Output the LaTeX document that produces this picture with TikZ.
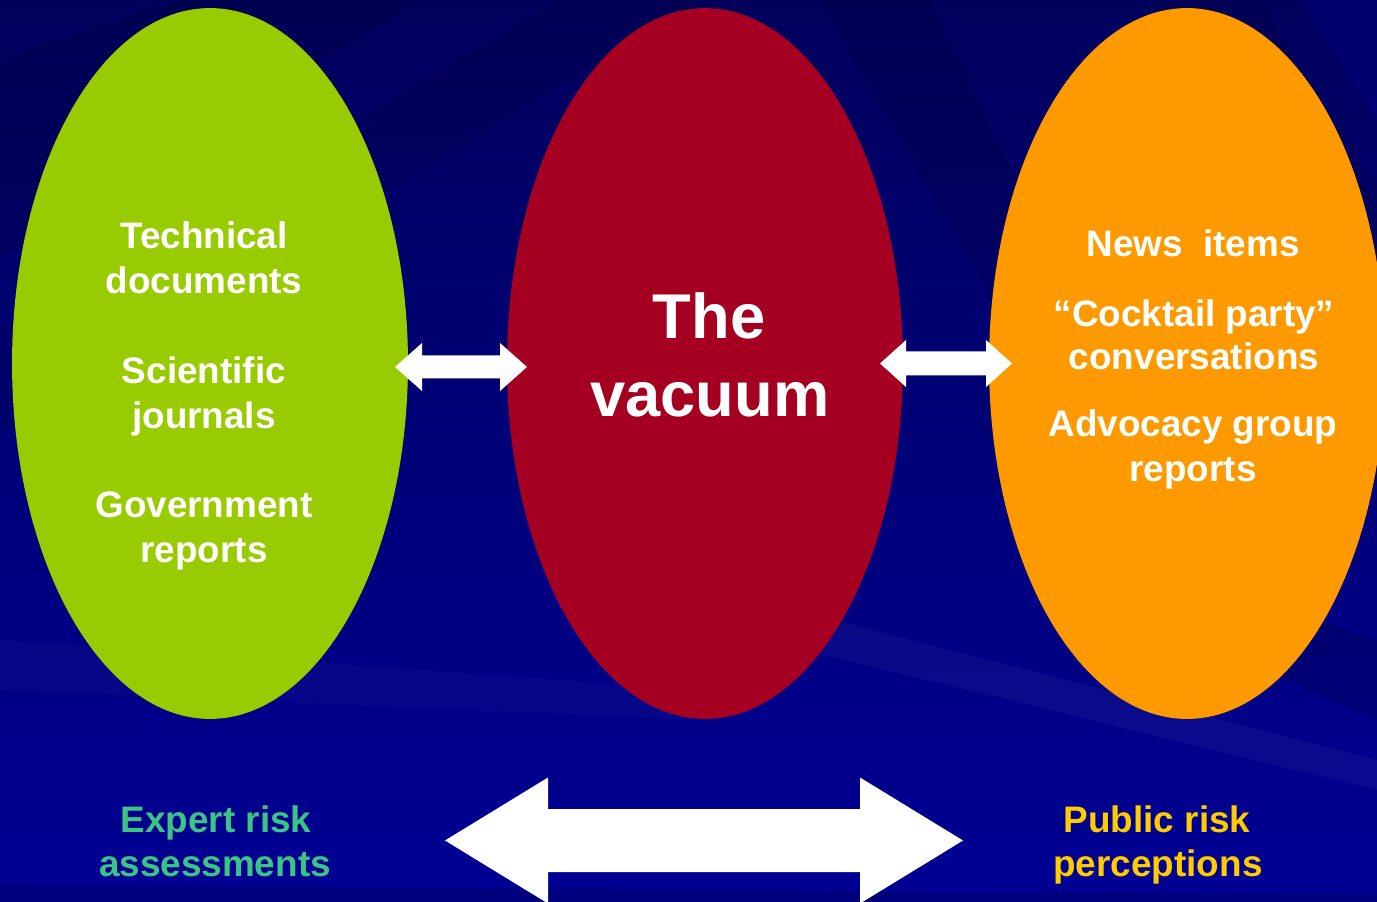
\documentclass[tikz,border=0pt]{standalone}
\usepackage{fontspec}
\setmainfont{Liberation Sans}
\usetikzlibrary{calc,shapes.geometric}

\definecolor{bgtop}{HTML}{00005C}
\definecolor{bgbot}{HTML}{000094}
\definecolor{expertgreen}{HTML}{99CC00}
\definecolor{vacuumred}{HTML}{A50021}
\definecolor{publicorange}{HTML}{FF9900}
\definecolor{experttext}{HTML}{3CC485}
\definecolor{publictext}{HTML}{FFCC00}

% double-headed block arrow: #1 left tip, #2 right tip (named coordinates),
% #3 head length, #4 shaft half height, #5 head half height
\newcommand\blockarrow[5]{%
  \fill[white] let \p1=(#1), \p2=(#2) in
    (\x1,\y1)
    -- ++(#3,-#5) -- ++(0,#5-#4)
    -- ($(\x2,\y1)+(-#3,-#4)$) -- ++(0,#4-#5)
    -- (\x2,\y2)
    -- ++(-#3,#5) -- ++(0,#4-#5)
    -- ($(\x1,\y1)+(#3,#4)$) -- ++(0,#5-#4) -- cycle;}

\begin{document}
\begin{tikzpicture}[x=0.02cm,y=-0.02cm,
  blob/.style={ellipse, inner sep=0pt, minimum width=7.92cm, minimum height=14.22cm},
  inlabel/.style={anchor=base, text=white, font=\fontsize{21}{25}\selectfont\bfseries},
  biglabel/.style={anchor=base, text=white, font=\fontsize{36}{43}\selectfont\bfseries},
  footlabel/.style={anchor=base, font=\fontsize{21}{25}\selectfont\bfseries}]

\useasboundingbox (0,0) rectangle (1377,902);
\clip (0,0) rectangle (1377,902);

% backdrop with soft diagonal streaks
\shade[top color=bgtop, bottom color=bgbot] (0,0) rectangle (1377,902);
\fill[black, opacity=0.10] (0,60) -- (180,0) -- (420,0) -- (0,260) -- cycle;
\fill[black, opacity=0.08] (0,330) -- (560,0) -- (700,0) -- (0,430) -- cycle;
\fill[black, opacity=0.09] (820,0) -- (930,0) -- (1090,330) -- (1010,330) -- cycle;
\fill[black, opacity=0.08] (1150,0) -- (1260,0) -- (1377,190) -- (1377,300) -- cycle;
\fill[blue, opacity=0.10] (1300,0) -- (1377,0) -- (1377,120) -- cycle;
\fill[white, opacity=0.04] (600,560) -- (1377,760) -- (1377,790) -- (600,600) -- cycle;
\fill[black, opacity=0.12] (1150,560) -- (1377,640) -- (1377,720) -- (1150,620) -- cycle;
\fill[white, opacity=0.025] (0,640) -- (700,690) -- (700,720) -- (0,690) -- cycle;
\fill[black, opacity=0.15] (0,885) -- (1377,895) -- (1377,902) -- (0,902) -- cycle;

% the three ellipses
\node[blob, fill=expertgreen] (expert) at (210,363.5) {};
\node[blob, fill=vacuumred] (vacuum) at (705,363.5) {};
\node[blob, fill=publicorange] (public) at (1187,363.5) {};

% contents of the expert ellipse
\node[inlabel] (t1) at (204,249) {Technical};
\node[inlabel] (t2) at (204,294) {documents};
\node[inlabel] (t3) at (204,383) {Scientific};
\node[inlabel] (t4) at (204,428) {journals};
\node[inlabel] (t5) at (204,517) {Government};
\node[inlabel] (t6) at (204,562) {reports};

% the vacuum
\node[biglabel] (v1) at (709,338) {The};
\node[biglabel] (v2) at (710,417) {vacuum};

% contents of the public ellipse
\node[inlabel] (p1) at (1193,257) {News\ \ items};
\node[inlabel] (p2) at (1194,327) {“Cocktail party”};
\node[inlabel] (p3) at (1194,370) {conversations};
\node[inlabel] (p4) at (1193,437) {Advocacy group};
\node[inlabel] (p5) at (1193,481) {reports};

% captions along the bottom
\node[footlabel, text=experttext] (e1) at (216,832) {Expert risk};
\node[footlabel, text=experttext] (e2) at (215,876) {assessments};
\node[footlabel, text=publictext] (q1) at (1157,832) {Public risk};
\node[footlabel, text=publictext] (q2) at (1158,876) {perceptions};

% arrow end points
\coordinate (aL) at (395,367);
\coordinate (aR) at (527,367);
\coordinate (bL) at (880,363.5);
\coordinate (bR) at (1012,363.5);
\coordinate (cL) at (445,840.5);
\coordinate (cR) at (963,840.5);

\blockarrow{aL}{aR}{27}{11.5}{24}
\blockarrow{bL}{bR}{26}{12}{23.5}
\blockarrow{cL}{cR}{103}{31.5}{63}

\end{tikzpicture}
\end{document}
